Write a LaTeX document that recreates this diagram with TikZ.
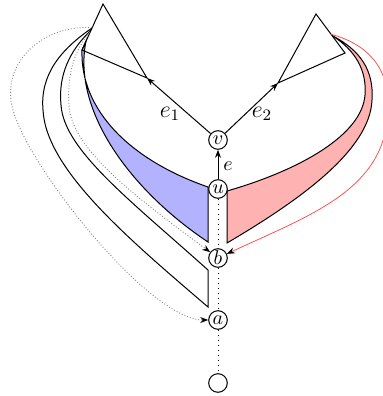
\documentclass[tikz,border=0pt]{standalone}
\usetikzlibrary{arrows.meta}
\begin{document}
\begin{tikzpicture}[x=0.5pt,y=-0.5pt,line width=0.5pt,
  >={Stealth[length=4pt,width=3pt]},
  vert/.style={circle,draw,inner sep=0pt,minimum size=9.3pt,fill=white},
  band/.style={draw=black,line width=0.5pt},
  ghost/.style={gray,densely dotted,line width=0.45pt,-{Stealth[length=4pt,width=3pt,color=black]}},
  redghost/.style={red!75,line width=0.35pt,-{Stealth[length=4pt,width=3pt,color=black]}},
  lab/.style={inner sep=1pt}]
\useasboundingbox (0,0) rectangle (383,396);
% triangles
\coordinate (L1) at (103,4);
\coordinate (L2) at (82,50);
\coordinate (L3) at (147,78);
\coordinate (R1) at (316,14);
\coordinate (R2) at (345,53);
\coordinate (R3) at (278,83);
% blue band
\filldraw[band,fill=blue!30] (L2) .. controls (80,110) and (130,160) .. (208,187)
  -- (208,242) .. controls (130,190) and (72,110) .. (86,41.2) -- cycle;
% red band
\filldraw[band,fill=red!30] (332,35.5) .. controls (355,50) and (367,70) .. (365,95)
  .. controls (362,135) and (300,170) .. (227,191) -- (227,243)
  .. controls (300,200) and (370,150) .. (372,100)
  .. controls (374,70) and (360,50) .. (332,35.5) -- cycle;
% white band
\draw[band] (92,28) .. controls (60,50) and (40,75) .. (43,110)
  .. controls (46,170) and (130,240) .. (208,307) -- (208,270)
  .. controls (130,200) and (64,150) .. (61,105)
  .. controls (58,75) and (70,50) .. (91,30.3);
\draw (L1) -- (L2) -- (L3) -- cycle;
\draw (R1) -- (R2) -- (R3) -- cycle;
% nodes
\node[vert] (v) at (218,140) {$v$};
\node[vert] (u) at (218,189) {$u$};
\node[vert] (b) at (218,258) {$b$};
\node[vert] (a) at (218,320) {$a$};
\node[vert] (r) at (218,383) {};
% connectors
\draw[->] (v) -- (L3);
\draw[->] (v) -- (R3);
\draw[->] (u) -- (v);
\node[lab] (le1) at (170,114) {\large $e_1$};
\node[lab] (le2) at (262,114) {\large $e_2$};
\node[lab] (le) at (228,166) {$e$};
\draw[dotted] (u) -- (b);
\draw[dotted] (b) -- (a);
\draw[dotted] (a) -- (r);
\draw[ghost] (92,27.5) .. controls (40,25) and (0,65) .. (13,110)
  .. controls (30,170) and (150,320) .. (a);
\draw[ghost] (90,32.5) .. controls (74,50) and (67,75) .. (69,105)
  .. controls (71,150) and (140,200) .. (b);
\draw[redghost] (331,34.2) .. controls (370,45) and (390,70) .. (388,110)
  .. controls (386,190) and (310,215) .. (b);
\end{tikzpicture}
\end{document}
